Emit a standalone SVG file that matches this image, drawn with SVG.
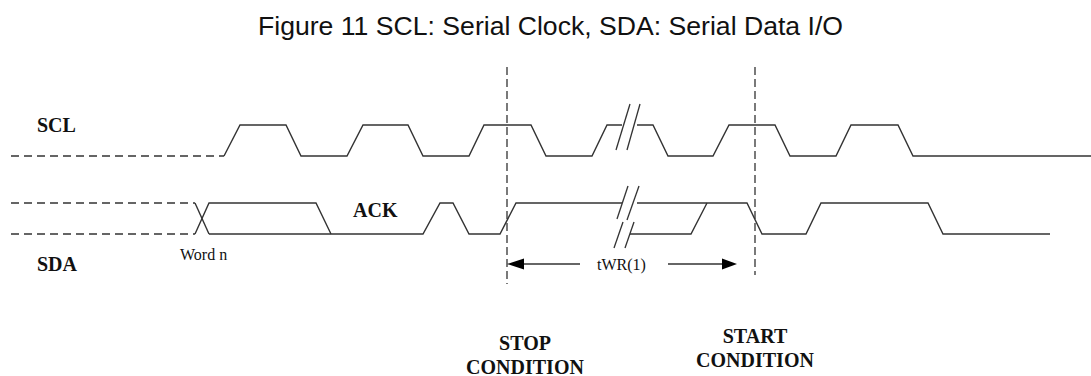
<svg xmlns="http://www.w3.org/2000/svg" width="1091" height="376" viewBox="0 0 1091 376">
<style>
.sig{fill:none;stroke:#333;stroke-width:1.4;stroke-linejoin:miter}
.dash{fill:none;stroke:#333;stroke-width:1.4;stroke-dasharray:8 5}
.vdash{fill:none;stroke:#333;stroke-width:1.3;stroke-dasharray:8 4}
.brk{fill:none;stroke:#333;stroke-width:1.3}
.lbl{font-family:"Liberation Serif","Times New Roman",serif;font-weight:bold;font-size:20px;fill:#111}
.small{font-family:"Liberation Serif","Times New Roman",serif;font-size:16px;fill:#111}
.title{font-family:"Liberation Sans",Arial,sans-serif;font-size:25px;fill:#111}
.arrow{fill:#000}
</style>
<rect width="1091" height="376" fill="#fff"/>
<text class="title" x="258" y="35" textLength="585" lengthAdjust="spacingAndGlyphs">Figure 11 SCL: Serial Clock, SDA: Serial Data I/O</text>

<g id="scl-label"><text class="lbl" x="37" y="132">SCL</text></g>
<g id="sda-label"><text class="lbl" x="37" y="271">SDA</text></g>
<g id="ack-label"><text class="lbl" x="353" y="217">ACK</text></g>
<g id="wordn-label"><text class="small" x="180" y="260">Word n</text></g>
<g id="stop-label"><text class="lbl" x="525" y="350" text-anchor="middle">STOP</text><text class="lbl" x="525" y="374" text-anchor="middle">CONDITION</text></g>
<g id="start-label"><text class="lbl" x="755" y="343" text-anchor="middle">START</text><text class="lbl" x="755" y="367" text-anchor="middle">CONDITION</text></g>

<g id="scl">
<polyline class="dash" points="11,156 224,156"/>
<polyline class="sig" points="224,156 240,125 286,125 301,156 347,156 363,125 408,125 423,156 469,156 484,125 531,125 546,156 592,156 607,125 622,125"/>
<polyline class="sig" points="637,125 653,125 668,156 713,156 729,125 775,125 790,156 836,156 851,125 898,125 913,156 1091,156"/>
<line class="brk" x1="616" y1="150" x2="630" y2="104"/>
<line class="brk" x1="627" y1="150" x2="640" y2="104"/>
</g>

<g id="sda">
<polyline class="dash" points="11,203 195,203"/>
<polyline class="dash" points="11,234 195,234"/>
<polyline class="sig" points="195,203 209,234"/>
<polyline class="sig" points="195,234 209,203 316,203 331,234"/>
<polyline class="sig" points="209,234 423,234 440,203 453,203 469,234 500,234 516,203 622,203"/>
<polyline class="sig" points="637,203 747,203 762,234 806,234 821,203 928,203 943,234 1050,234"/>
<polyline class="sig" points="630,234 691,234 707,203"/>
<line class="brk" x1="617" y1="219" x2="628" y2="186"/>
<line class="brk" x1="627" y1="220" x2="639" y2="186"/>
<line class="brk" x1="614" y1="248" x2="623" y2="222"/>
<line class="brk" x1="625" y1="248" x2="634" y2="222"/>
</g>

<g id="connectors">
<line class="vdash" x1="507" y1="67" x2="507" y2="284"/>
<line class="vdash" x1="755" y1="67" x2="755" y2="275"/>
<line class="brk" x1="524" y1="264" x2="580" y2="264"/>
<polygon class="arrow" points="507,264 524,258.5 524,269.5"/>
<line class="brk" x1="668" y1="264" x2="722" y2="264"/>
<polygon class="arrow" points="737,264 722,258.5 722,269.5"/>
<text class="small" x="597" y="270">tWR(1)</text>
</g>
</svg>
